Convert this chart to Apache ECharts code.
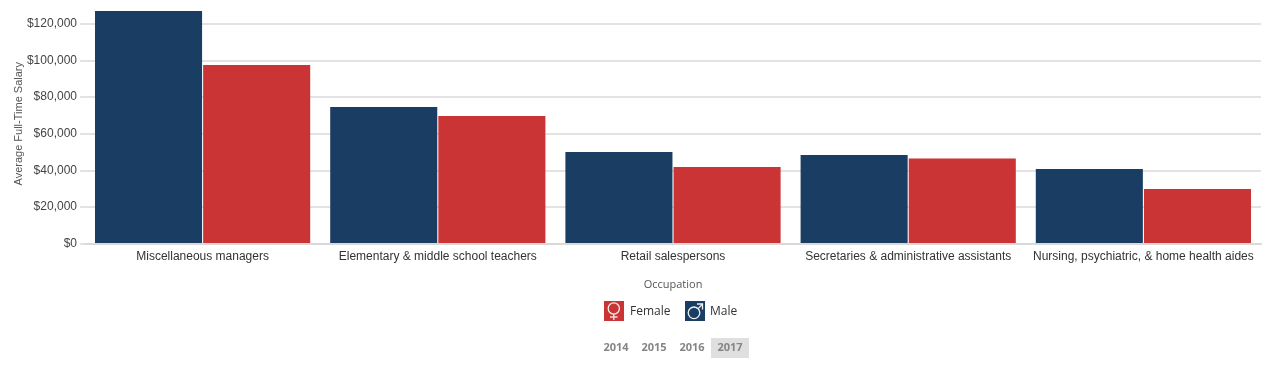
<!DOCTYPE html>
<html><head><meta charset="utf-8">
<style>html,body{margin:0;padding:0;background:#fff}#c{width:1266px;height:366px}</style>
<script src="https://cdn.jsdelivr.net/npm/echarts@6/dist/echarts.min.js"></script></head>
<body><div id="c"></div>
<script>
const categories = ["Miscellaneous managers","Elementary & middle school teachers","Retail salespersons","Secretaries & administrative assistants","Nursing, psychiatric, & home health aides"];
const male = [127100,74600,50000,48400,40700];
const female = [97600,69700,41800,46500,29800];
const years = ["2014","2015","2016","2017"];
const yearX = [616,654,692,730];
const MALE='#1a3e63', FEMALE='#cb3435', UI='"Open Sans",sans-serif', AX='"Liberation Sans",Arial,sans-serif';
const chart = echarts.init(document.getElementById('c'),null,{renderer:'canvas'});
const iconLine={stroke:'#eef0f2',lineWidth:1.3,fill:null};
const graphic = [
  {type:'rect',shape:{x:711,y:338,width:38,height:20},style:{fill:'#dfdfdf'},silent:true},
  ...years.map((y,i)=>({type:'text',x:yearX[i],y:348,silent:true,style:{text:y,align:'center',verticalAlign:'middle',font:'bold 11px '+UI,fill:'#858585'}})),
  {type:'rect',shape:{x:604,y:301,width:20,height:20},style:{fill:FEMALE},silent:true},
  {type:'circle',shape:{cx:613.8,cy:308.5,r:5.6},style:iconLine,silent:true},
  {type:'line',shape:{x1:613.8,y1:314,x2:613.8,y2:320},style:iconLine,silent:true},
  {type:'line',shape:{x1:610,y1:317,x2:617.6,y2:317},style:iconLine,silent:true},
  {type:'rect',shape:{x:685,y:301,width:20,height:20},style:{fill:MALE},silent:true},
  {type:'circle',shape:{cx:694,cy:312.8,r:5.8},style:iconLine,silent:true},
  {type:'line',shape:{x1:698.2,y1:308.6,x2:702.5,y2:304},style:iconLine,silent:true},
  {type:'polyline',shape:{points:[[697,304],[702.5,304],[702.5,309.5]]},style:iconLine,silent:true},
  {type:'text',x:630,y:312,silent:true,style:{text:'Female',align:'left',verticalAlign:'middle',font:'12px '+UI,fill:'#333'}},
  {type:'text',x:710,y:312,silent:true,style:{text:'Male',align:'left',verticalAlign:'middle',font:'12px '+UI,fill:'#333'}},
  {type:'text',x:673,y:285,silent:true,style:{text:'Occupation',align:'center',verticalAlign:'middle',font:'11px '+UI,fill:'#555'}}
];
chart.setOption({
  animation:false,
  backgroundColor:'#fff',
  grid:{left:85,right:5,top:11,height:232.5,outerBoundsMode:'none'},
  xAxis:{type:'category',data:categories,z:5,
    axisLine:{lineStyle:{color:'#d9d9d9',width:2}},axisTick:{show:false},
    axisLabel:{color:'#333',fontFamily:AX,fontSize:12,margin:7,interval:0}},
  yAxis:{type:'value',min:0,max:Math.max(...male),interval:20000,
    name:'Average Full-Time Salary',nameLocation:'middle',nameGap:61,nameRotate:90,nameMoveOverlap:false,
    nameTextStyle:{color:'#555',fontFamily:AX,fontSize:11,padding:[0,0,0,7]},
    axisLine:{show:false},axisTick:{show:true,length:5,lineStyle:{color:'#e3e3e3',width:2}},
    splitLine:{show:true,showMaxLine:false,lineStyle:{color:'#e3e3e3',width:2}},
    axisLabel:{color:'#444',fontFamily:AX,fontSize:12,margin:8,showMaxLabel:false,
      formatter:v=>'$'+v.toLocaleString('en-US')}},
  series:[
    {name:'Male',type:'bar',data:male,barGap:'1%',barCategoryGap:'8.5%',itemStyle:{color:MALE}},
    {name:'Female',type:'bar',data:female,itemStyle:{color:FEMALE}}
  ],
  graphic
});
</script></body></html>
